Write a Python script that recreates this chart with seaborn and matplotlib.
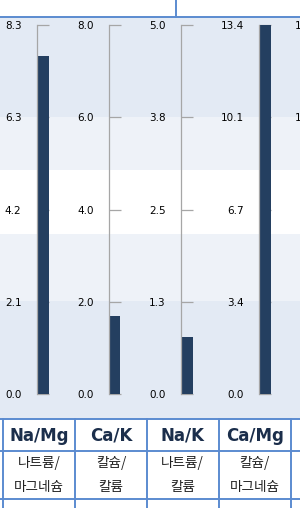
import matplotlib
matplotlib.use("Agg")
import matplotlib.pyplot as plt
import seaborn as sns
import pandas as pd
import numpy as np

sns.set_theme(style="white")
plt.rcParams['font.family'] = ['DejaVu Sans']

# ---- data ----
categories = ["Na/Mg", "Ca/K", "Na/K", "Ca/Mg", "col5"]
korean_names = ["나트륨/\n마그네슘", "칼슘/\n칼륨", "나트륨/\n칼륨", "칼슘/\n마그네슘", ""]
values = [7.6, 1.7, 0.77, 13.4, 0.0]
axis_max = [8.3, 8.0, 5.0, 13.4, 14.0]
tick_labels = [
    ["0.0", "2.1", "4.2", "6.3", "8.3"],
    ["0.0", "2.0", "4.0", "6.0", "8.0"],
    ["0.0", "1.3", "2.5", "3.8", "5.0"],
    ["0.0", "3.4", "6.7", "10.1", "13.4"],
    ["0.0", "3.5", "7.0", "10.5", "14.0"],
]

# ---- layout (pixels) ----
W, H = 300, 508
BAR_COLOR = "#243F60"
AXIS_GRAY = "#A6A6A6"
BLUE = "#5B8BD0"
BAND_BLUE = "#E3EAF4"
BAND_LIGHT = "#EEF2F8"
spine_x = [36.5, 108.5, 180.5, 259.0, 333.0]
bar_w = 12
y_top, y_bot = 25, 394
col_edges = [3, 75, 147, 218.5, 291, 363]

fig = plt.figure(figsize=(W / 100, H / 100), dpi=100)
bg = fig.add_axes([0, 0, 1, 1])
bg.set_xlim(0, W)
bg.set_ylim(H, 0)
bg.axis("off")

# background bands
bands = [(17, 117, BAND_BLUE), (117, 170, BAND_LIGHT), (170, 234, "white"),
         (234, 301, BAND_LIGHT), (301, 418, BAND_BLUE)]
for y0, y1, c in bands:
    bg.axhspan(y0, y1, color=c, lw=0, zorder=0)

# table lines
bg.plot([0, W], [17, 17], color=BLUE, lw=1.4, zorder=2)
bg.plot([176, 176], [0, 17], color=BLUE, lw=1.4, zorder=2)
for yy in [418.5, 451, 499]:
    bg.plot([0, W], [yy, yy], color=BLUE, lw=1.4, zorder=2)
for xx in col_edges[:-1]:
    bg.plot([xx, xx], [418.5, H], color=BLUE, lw=1.4, zorder=2)

# table text
for i in range(4):
    cx = (col_edges[i] + col_edges[i + 1]) / 2
    bg.text(cx, 436, categories[i], ha="center", va="center",
            fontsize=12, fontweight="bold", color="#1B2E4B")
    lines = korean_names[i].split("\n")
    for j, ln in enumerate(lines):
        bg.text(cx, 463.5 + j * 24, ln, ha="center", va="center", fontsize=9.8,
                color="#222222", family=["Noto Sans CJK KR", "DejaVu Sans"])

# gauges
for i in range(5):
    left = spine_x[i] / W
    bottom = 1 - y_bot / H
    height = (y_bot - y_top) / H
    ax = fig.add_axes([left, bottom, bar_w / W, height])
    ax.patch.set_alpha(0)
    df = pd.DataFrame({"cat": [categories[i]], "val": [values[i]]})
    sns.barplot(data=df, x="cat", y="val", ax=ax, color=BAR_COLOR,
                saturation=1, width=1.0, linewidth=0)
    ax.set_xlim(-0.5, 0.5)
    ax.set_ylim(0, axis_max[i])
    ax.set_axisbelow(True)
    ax.set_yticks(np.linspace(0, axis_max[i], 5))
    ax.set_yticklabels(tick_labels[i])
    ax.set_xticks([])
    ax.set_xlabel("")
    ax.set_ylabel("")
    for s in ["top", "right", "bottom"]:
        ax.spines[s].set_visible(False)
    ax.spines["left"].set_color(AXIS_GRAY)
    ax.spines["left"].set_linewidth(0.9)
    ax.tick_params(axis="y", direction="in", length=8.6, width=0.9,
                   color=AXIS_GRAY, labelcolor="black", labelsize=7.5,
                   pad=10.8, left=True)

fig.savefig("out.png", dpi=100)
